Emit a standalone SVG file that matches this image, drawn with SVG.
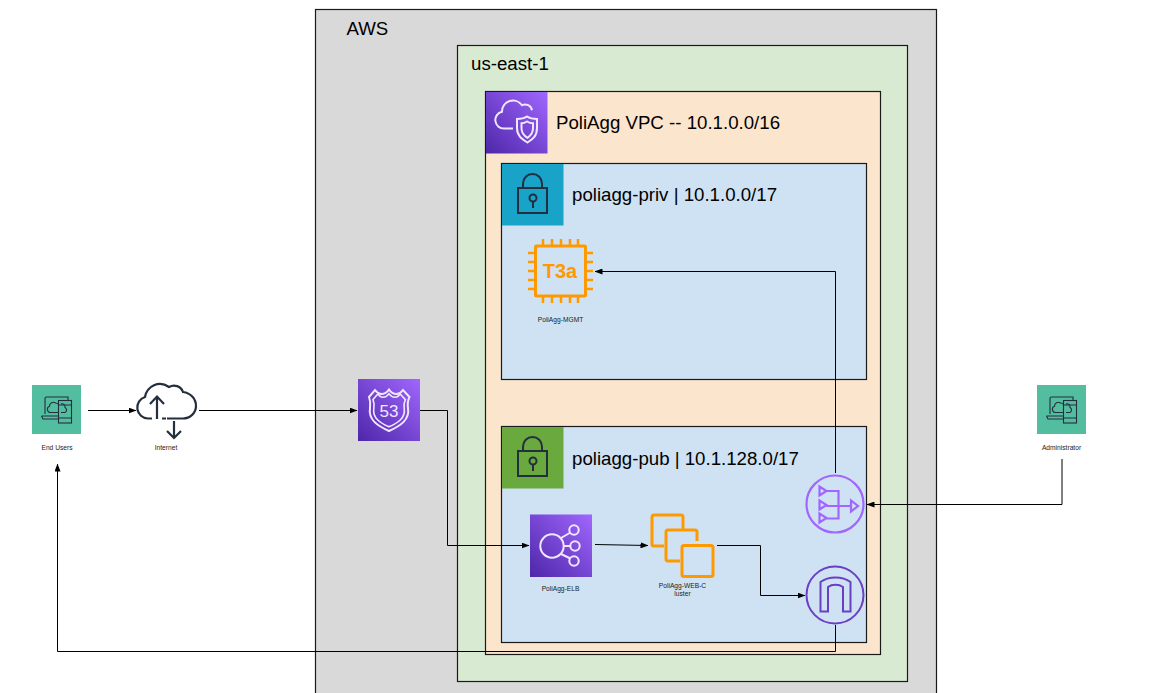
<svg xmlns="http://www.w3.org/2000/svg" width="1156" height="693" viewBox="0 0 1156 693">
<style>
.box{stroke:#1a1a1a;stroke-width:1.2}
text{font-family:"Liberation Sans",Arial,sans-serif;fill:#000}
.big{font-size:18.67px}
.sm{font-size:6.67px;text-anchor:middle;fill:#222}
.c{fill:none;stroke:#000;stroke-width:1}
.w{fill:none;stroke:#f0e6ff;stroke-width:2}
.d{fill:none;stroke:#232f3e;stroke-width:2}
.t{fill:none;stroke:#232f3e;stroke-width:1.100}
.o{fill:none;stroke:#ff9900;stroke-width:3}
</style>
<defs>
<linearGradient id="pg" x1="0" y1="1" x2="1" y2="0"><stop offset="0" stop-color="#4d27a8"/><stop offset="1" stop-color="#a166ff"/></linearGradient>
<marker id="a" viewBox="0 0 8 6" refX="7.500" refY="3" markerWidth="8" markerHeight="6" markerUnits="userSpaceOnUse" orient="auto"><path d="M0 0L8 3L0 6z" fill="#000"/></marker>
<g id="dev">
<rect width="49" height="49" fill="#52bd9f"/>
<path class="t" d="M13 29V13.500a1.500 1.500 0 0 1 1.500-1.500H36V15M9.500 31H26M9.500 31l1.500 3H26"/>
<rect class="t" x="26.500" y="15.500" width="13" height="22.500"/>
<path class="t" d="M26.500 33H39.500M26.500 20H39.500"/>
<path class="t" d="M26.500 27.500h-8a3.200 3.200 0 0 1-1-6.200 3.800 3.800 0 0 1 6-3.300 3.300 3.300 0 0 1 3 1.500M29 19a3 3 0 0 1 4 3.500 2.800 2.800 0 0 1 0 5h-4"/>
</g>
<g id="lock">
<path class="d" d="M21 24V19.500a9.500 9.500 0 0 1 19 0V24"/>
<rect class="d" x="16" y="24" width="29" height="25"/>
<circle class="d" cx="31" cy="34" r="3.500"/>
<path class="d" d="M31 37.500V44"/>
</g>
</defs>

<g id="aws"><rect class="box" x="315.500" y="9.500" width="621" height="700" fill="#d9d9d9"/><text class="big" x="346.500" y="34.500">AWS</text></g>
<g id="region"><rect class="box" x="457.500" y="45.500" width="450" height="636" fill="#d9ead3"/><text class="big" x="471" y="70">us-east-1</text></g>
<g id="vpc"><rect class="box" x="485.500" y="91.500" width="395" height="563" fill="#fce5cd"/>
<rect x="486" y="92" width="61.500" height="61.500" fill="url(#pg)"/>
<g transform="translate(486 92)"><path class="w" d="M27 36.500H18a8.500 8.500 0 0 1-2-16.800 11 11 0 0 1 20-6.500 7 7 0 0 1 10 5"/><path class="w" d="M41 24.500c3 2 7 2.500 10 2.500v9c0 8-4 11-9.500 14.500-5.500-3.500-10.500-6.500-10.500-14.500v-9c4 0 7-.5 10-2.500z"/><path class="w" d="M41 29.500c2 1.200 4.500 1.800 6 1.800v5c0 5-2.500 7.500-5.500 9.500-3.500-2-6-4.500-6-9.500v-5c2.500 0 3.500-.6 5.500-1.800z"/></g>
<text class="big" x="556" y="129">PoliAgg VPC -- 10.1.0.0/16</text></g>
<g id="priv"><rect class="box" x="501.500" y="163.500" width="365" height="216" fill="#cfe2f3"/>
<rect x="502" y="164" width="61.500" height="61.500" fill="#19a3c9"/>
<use href="#lock" x="502" y="164"/>
<text class="big" x="572" y="201">poliagg-priv | 10.1.0.0/17</text></g>
<g id="pub"><rect class="box" x="501.500" y="426.500" width="365" height="216" fill="#cfe2f3"/>
<rect x="502" y="427" width="61.500" height="61.500" fill="#6aa93d"/>
<use href="#lock" x="502" y="427"/>
<text class="big" x="572" y="465">poliagg-pub | 10.1.128.0/17</text></g>

<g id="mgmt"><rect class="o" x="535.500" y="246" width="50" height="50" rx="1"/>
<path class="o" style="stroke-width:2.500" d="M543 239v7M552 239v7M561 239v7M570 239v7M578 239v7M543 296v7M552 296v7M561 296v7M570 296v7M578 296v7M528 253h7M528 262h7M528 271h7M528 280h7M528 289h7M586 253h7M586 262h7M586 271h7M586 280h7M586 289h7"/>
<text x="560" y="278" text-anchor="middle" style="font-size:20px;font-weight:bold;fill:#ff9900">T3a</text>
<text class="sm" x="560.500" y="322">PoliAgg-MGMT</text></g>

<g id="elb"><rect x="530" y="514.500" width="62" height="62.500" fill="url(#pg)"/>
<g fill="none" stroke="#f0e6ff" stroke-width="2"><circle cx="552" cy="546" r="11.700"/><circle cx="574" cy="530" r="4.700"/><circle cx="575" cy="546" r="4.700"/><circle cx="574" cy="561" r="4.700"/><path d="M561 538l9.500-5.500M563.700 546h6.500M561 554l9.500 4.500"/></g>
<text class="sm" x="560.500" y="591">PoliAgg-ELB</text></g>

<g id="cluster"><path class="o" d="M683 529V517a2 2 0 0 0-2-2H654a2 2 0 0 0-2 2v27a2 2 0 0 0 2 2h10"/>
<path class="o" d="M697 541v-9a2 2 0 0 0-2-2H668a2 2 0 0 0-2 2v27a2 2 0 0 0 2 2h12"/>
<rect class="o" x="682" y="545.500" width="31" height="31" rx="2"/>
<text class="sm" x="682.500" y="588">PoliAgg-WEB-C</text><text class="sm" x="682.500" y="596">luster</text></g>

<g id="nat" fill="none" stroke="#a166ff" stroke-width="2.200"><circle cx="835" cy="504" r="28.500"/>
<path d="M819.500 486.500v9l7-4.500zM819.500 500.500v9l7-4.500zM819.500 513.500v9l7-4.500zM826.500 491h12v27.500h-12M826.500 506h24M851 500.500v11l7-5.500z"/></g>
<g id="igw" fill="none" stroke="#6b3fc4" stroke-width="2"><circle cx="835" cy="595" r="28.500"/>
<path d="M820.500 611.500V582c8-6 22-6 30 0v29.500h-7.500V587c-4-3-11-3-15 0v24.500z"/></g>

<g id="r53"><rect x="358" y="379" width="62" height="62" fill="url(#pg)"/>
<path class="w" d="M369 397L375 390Q378 394 381.500 394Q386 394 389 389.500Q392 394 396.500 394Q400 394 403 390L409.500 397Q407 402 408 408C410 420 400 426 389 431C378 426 368 420 370 408Q371 402 369 397z"/>
<path class="w" transform="translate(389 410) scale(.8) translate(-389 -410)" d="M369 397L375 390Q378 394 381.500 394Q386 394 389 389.500Q392 394 396.500 394Q400 394 403 390L409.500 397Q407 402 408 408C410 420 400 426 389 431C378 426 368 420 370 408Q371 402 369 397z"/>
<text x="389" y="417" text-anchor="middle" style="font-size:17px;fill:#f0e6ff">53</text></g>

<g id="users"><use href="#dev" x="32" y="385"/><text class="sm" x="57" y="450">End Users</text></g>
<g id="admin"><use href="#dev" x="1037" y="385"/><text class="sm" x="1061.500" y="450">Administrator</text></g>
<g id="internet"><path class="d" style="stroke-width:2.200" d="M152 418.500h-4a11 11 0 0 1-3-21.500c2-11 14-17 24-10c5-3 12-1 14 5c8 1 13 7 13 14s-6 12.500-13 12.500h-16M162 418.500h4M170 418.500h1"/>
<path class="d" style="stroke-width:2.200" d="M157 419V397M150 404l7-7.500 7 7.500M174 421V437M167 431l7 7 7-7"/>
<text class="sm" x="166" y="450">Internet</text></g>

<g id="connectors">
<path class="c" marker-end="url(#a)" d="M88 410.500H136"/>
<path class="c" marker-end="url(#a)" d="M199 410.500H357"/>
<path class="c" marker-end="url(#a)" d="M420 410.500H447.500V545.500H529"/>
<path class="c" marker-end="url(#a)" d="M595 544.500L648 545.500"/>
<path class="c" marker-end="url(#a)" d="M717 545.500H760.500V595.500H805"/>
<path class="c" marker-end="url(#a)" d="M835.500 473V271.500H595"/>
<path class="c" marker-end="url(#a)" d="M835.500 625V651.500H57.500V464"/>
<path class="c" marker-end="url(#a)" d="M1062 459V504.500H867"/>
</g>
</svg>
